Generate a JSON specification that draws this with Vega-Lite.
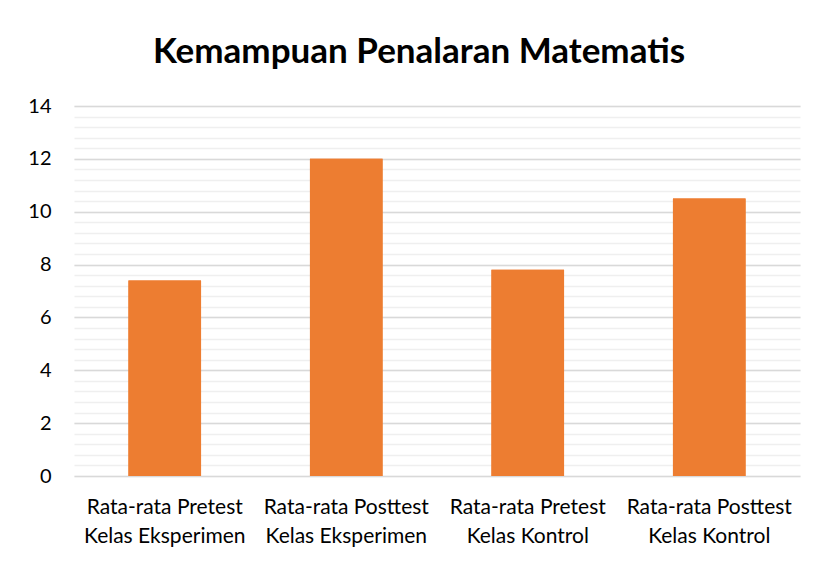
{
  "$schema": "https://vega.github.io/schema/vega-lite/v6.json",
  "width": 726,
  "height": 370,
  "autosize": {"type": "none"},
  "padding": {"left": 74, "top": 106, "right": 18, "bottom": 86},
  "background": "white",
  "title": {
    "text": "Kemampuan Penalaran Matematis",
    "font": "Lato",
    "fontSize": 35,
    "fontWeight": "bold",
    "color": "#000000",
    "anchor": "middle",
    "baseline": "alphabetic",
    "offset": -2,
    "dx": -18
  },
  "data": {
    "values": [
      {"kategori": "Rata-rata Pretest|Kelas Eksperimen", "nilai": 7.4},
      {"kategori": "Rata-rata Posttest|Kelas Eksperimen", "nilai": 12.0},
      {"kategori": "Rata-rata Pretest|Kelas Kontrol", "nilai": 7.8},
      {"kategori": "Rata-rata Posttest|Kelas Kontrol", "nilai": 10.5}
    ]
  },
  "config": {
    "view": {"stroke": null},
    "font": "Lato"
  },
  "encoding": {
    "x": {
      "field": "kategori",
      "type": "nominal",
      "sort": null,
      "scale": {"paddingInner": 0.6, "paddingOuter": 0.3},
      "axis": {
        "title": null,
        "labelAngle": 0,
        "labelExpr": "split(datum.label, '|')",
        "labelFont": "Lato",
        "labelFontSize": 21,
        "labelColor": "#000000",
        "labelLineHeight": 29,
        "labelPadding": 20,
        "domain": false,
        "ticks": false
      }
    },
    "y": {
      "field": "nilai",
      "type": "quantitative",
      "scale": {"domain": [0, 14], "nice": false}
    }
  },
  "layer": [
    {
      "mark": {"type": "bar", "color": "#ED7D31"},
      "encoding": {
        "y": {
          "field": "nilai",
          "type": "quantitative",
          "scale": {"domain": [0, 14], "nice": false},
          "axis": {
            "orient": "left",
            "values": [0, 0.4, 0.8, 1.2, 1.6, 2, 2.4, 2.8, 3.2, 3.6, 4, 4.4, 4.8, 5.2, 5.6, 6, 6.4, 6.8, 7.2, 7.6, 8, 8.4, 8.8, 9.2, 9.6, 10, 10.4, 10.8, 11.2, 11.6, 12, 12.4, 12.8, 13.2, 13.6, 14],
            "grid": true,
            "gridColor": "#efefef",
            "gridWidth": 1.5,
            "labels": false,
            "ticks": false,
            "domain": false,
            "title": null
          }
        }
      }
    },
    {
      "mark": {"type": "bar", "color": "#ED7D31"},
      "encoding": {
        "y": {
          "field": "nilai",
          "type": "quantitative",
          "scale": {"domain": [0, 14], "nice": false},
          "axis": {
            "orient": "left",
            "values": [0, 2, 4, 6, 8, 10, 12, 14],
            "grid": true,
            "gridColor": "#d9d9d9",
            "gridWidth": 1.5,
            "labelFont": "Lato",
            "labelFontSize": 20,
            "labelColor": "#000000",
            "labelPadding": 23,
            "ticks": false,
            "domain": false,
            "title": null
          }
        }
      }
    }
  ],
  "resolve": {"scale": {"y": "shared"}, "axis": {"y": "independent"}}
}
